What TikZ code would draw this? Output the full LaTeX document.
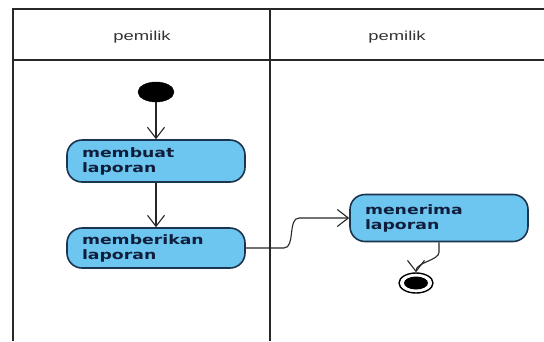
\documentclass[tikz,border=0pt]{standalone}
\usepackage{fontspec}
\usetikzlibrary{arrows.meta,shapes.geometric}
\newfontfamily\headfont[FakeStretch=1.42]{Liberation Sans}
\newfontfamily\actfont[FakeStretch=1.33]{DejaVu Sans}
\definecolor{actfill}{RGB}{108,198,240}
\definecolor{actline}{RGB}{28,52,78}
\definecolor{acttext}{RGB}{16,30,60}
\definecolor{laneline}{RGB}{40,40,40}
\begin{document}
\begin{tikzpicture}[x=1pt,y=-1pt,
  lane/.style={draw=laneline,line width=1.3pt},
  lanehead/.style={font=\headfont\fontsize{13}{15}\selectfont,text=black!80},
  activity/.style={draw=actline,line width=1.6pt,fill=actfill,rounded corners=15pt,
    minimum width=178pt,text width=148pt,inner xsep=15pt,align=left,
    text=acttext,font=\actfont\bfseries\fontsize{13}{15}\selectfont},
  startnode/.style={ellipse,fill=black,draw=black,minimum width=36pt,minimum height=20pt,inner sep=0pt},
  flow/.style={draw=black!85,line width=1.1pt,-{Straight Barb[length=11pt,width=17pt,line width=1.1pt]}}]
\useasboundingbox (0,0) rectangle (544,341);
% swimlane frame
\draw[lane] (13,341) -- (13,9) -- (544,9);
\draw[lane] (13,60) -- (544,60);
\draw[lane] (270,9) -- (270,341);
\node[lanehead] (laneA) at (142,37) {pemilik};
\node[lanehead] (laneB) at (397,37) {pemilik};
% nodes
\node[startnode] (start) at (156,92) {};
\node[activity,minimum height=42pt] (b1) at (156,161) {membuat\\laporan};
\node[activity,minimum height=40pt] (b2) at (156,248) {memberikan\\laporan};
\node[activity,minimum height=47pt] (b3) at (439,218) {menerima\\laporan};
\node[ellipse,draw=black,fill=white,line width=1.4pt,minimum width=34pt,minimum height=20pt,inner sep=0pt] (fin) at (416,283) {};
\node[ellipse,fill=black,minimum width=24pt,minimum height=13pt,inner sep=0pt] (finin) at (fin.center) {};
% flows
\draw[flow] (start.south) -- (b1.north);
\draw[flow] (b1.south) -- (b2.north);
\draw[flow] (b2.east) -- ++(38,0) .. controls +(12,0) and +(-12,0) .. ([xshift=-50pt]b3.west) -- (b3.west);
\draw[flow] (b3.south) -- ++(0,10) .. controls +(0,8) and +(0,-10) .. (fin.north);
\end{tikzpicture}
\end{document}
